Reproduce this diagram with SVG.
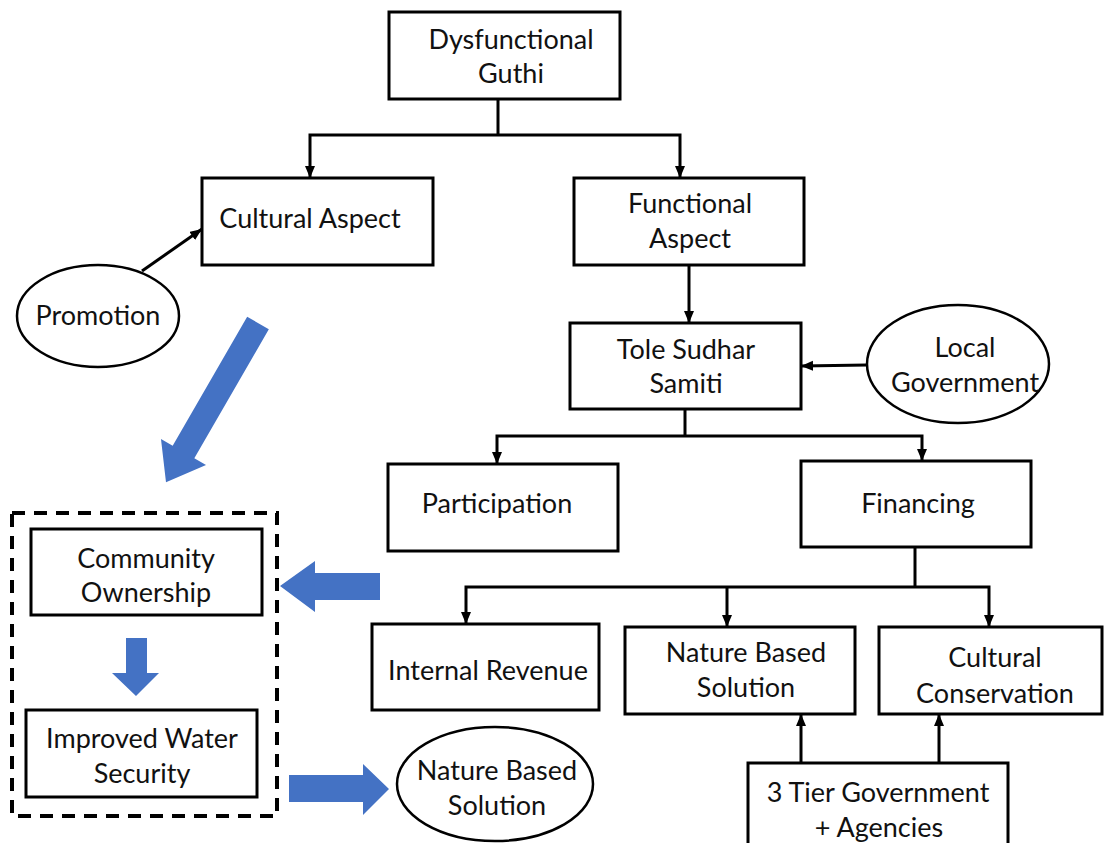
<svg xmlns="http://www.w3.org/2000/svg" width="1104" height="843" viewBox="0 0 1104 843">
<style>
.box{fill:#fff;stroke:#000;stroke-width:3}
.ell{fill:#fff;stroke:#000;stroke-width:2.5}
.t{font-family:Lato,"Open Sans",sans-serif;font-size:27px;fill:#111;text-anchor:middle}
.c{fill:none;stroke:#000;stroke-width:3}
.blue{fill:#4472C4}
.dash{fill:none;stroke:#000;stroke-width:4;stroke-dasharray:13 9}
</style>
<defs>
<marker id="ah" markerUnits="userSpaceOnUse" markerWidth="12" markerHeight="12" refX="12" refY="5" orient="auto">
<path d="M0,0 L12,5 L0,10 z" fill="#000"/>
</marker>
</defs>
<rect width="1104" height="843" fill="#fff"/>

<g id="connectors">
<path class="c" d="M498,99 V135"/>
<path class="c" d="M498,135 H310 V178" marker-end="url(#ah)"/>
<path class="c" d="M498,135 H680 V178" marker-end="url(#ah)"/>
<path class="c" d="M142,271 L202,229" marker-end="url(#ah)"/>
<path class="c" d="M689,265 V323" marker-end="url(#ah)"/>
<path class="c" d="M867,365 L801,366" marker-end="url(#ah)"/>
<path class="c" d="M685,409 V436"/>
<path class="c" d="M685,436 H497 V464" marker-end="url(#ah)"/>
<path class="c" d="M685,436 H922 V461" marker-end="url(#ah)"/>
<path class="c" d="M915,547 V587"/>
<path class="c" d="M915,587 H466 V624" marker-end="url(#ah)"/>
<path class="c" d="M727,587 V627" marker-end="url(#ah)"/>
<path class="c" d="M915,587 H989 V627" marker-end="url(#ah)"/>
<path class="c" d="M801,763 V714" marker-end="url(#ah)"/>
<path class="c" d="M939,763 V714" marker-end="url(#ah)"/>
<polygon class="blue" points="0,-12.5 149,-12.5 149,-26 184,0 149,26 149,12.5 0,12.5" transform="translate(258,323) rotate(120)"/>
<polygon class="blue" points="380,573 315,573 315,561 280,586 315,612 315,600 380,600"/>
<polygon class="blue" points="126,638 147,638 147,673 159,673 136,696 112,673 126,673"/>
<polygon class="blue" points="289,775 363,775 363,764 389,789 363,815 363,802 289,802"/>
</g>

<g id="dysfunctional-guthi">
<rect class="box" x="389" y="12" width="231" height="87"/>
<text class="t" x="511" y="49">Dysfunctional</text>
<text class="t" x="511" y="83">Guthi</text>
</g>
<g id="cultural-aspect">
<rect class="box" x="202" y="178" width="231" height="87"/>
<text class="t" x="310" y="228">Cultural Aspect</text>
</g>
<g id="functional-aspect">
<rect class="box" x="574" y="178" width="230" height="87"/>
<text class="t" x="690" y="213">Functional</text>
<text class="t" x="690" y="248">Aspect</text>
</g>
<g id="promotion">
<ellipse class="ell" cx="98" cy="316" rx="81" ry="51"/>
<text class="t" x="98" y="325">Promotion</text>
</g>
<g id="tole-sudhar-samiti">
<rect class="box" x="570" y="323" width="231" height="86"/>
<text class="t" x="686" y="359">Tole Sudhar</text>
<text class="t" x="686" y="393">Samiti</text>
</g>
<g id="local-government">
<ellipse class="ell" cx="958" cy="364" rx="91" ry="59"/>
<text class="t" x="965" y="357">Local</text>
<text class="t" x="965" y="392">Government</text>
</g>
<g id="participation">
<rect class="box" x="388" y="464" width="230" height="87"/>
<text class="t" x="497" y="513">Participation</text>
</g>
<g id="financing">
<rect class="box" x="801" y="461" width="230" height="86"/>
<text class="t" x="918" y="513">Financing</text>
</g>
<g id="internal-revenue">
<rect class="box" x="372" y="624" width="227" height="86"/>
<text class="t" x="488" y="680">Internal Revenue</text>
</g>
<g id="nature-based-solution-box">
<rect class="box" x="625" y="627" width="230" height="87"/>
<text class="t" x="746" y="662">Nature Based</text>
<text class="t" x="746" y="697">Solution</text>
</g>
<g id="cultural-conservation">
<rect class="box" x="879" y="627" width="223" height="87"/>
<text class="t" x="995" y="667">Cultural</text>
<text class="t" x="995" y="703">Conservation</text>
</g>
<g id="three-tier-government">
<rect class="box" x="748" y="763" width="260" height="90"/>
<text class="t" x="878" y="802">3 Tier Government</text>
<text class="t" x="879" y="837">+ Agencies</text>
</g>
<g id="dashed-group">
<rect class="dash" x="12" y="513" width="265" height="303"/>
</g>
<g id="community-ownership">
<rect class="box" x="31" y="529" width="231" height="86"/>
<text class="t" x="146" y="568">Community</text>
<text class="t" x="146" y="602">Ownership</text>
</g>
<g id="improved-water-security">
<rect class="box" x="26" y="710" width="231" height="87"/>
<text class="t" x="142" y="748">Improved Water</text>
<text class="t" x="142" y="783">Security</text>
</g>
<g id="nature-based-solution-ellipse">
<ellipse class="ell" cx="495" cy="784" rx="98" ry="57"/>
<text class="t" x="497" y="780">Nature Based</text>
<text class="t" x="497" y="815">Solution</text>
</g>
</svg>
